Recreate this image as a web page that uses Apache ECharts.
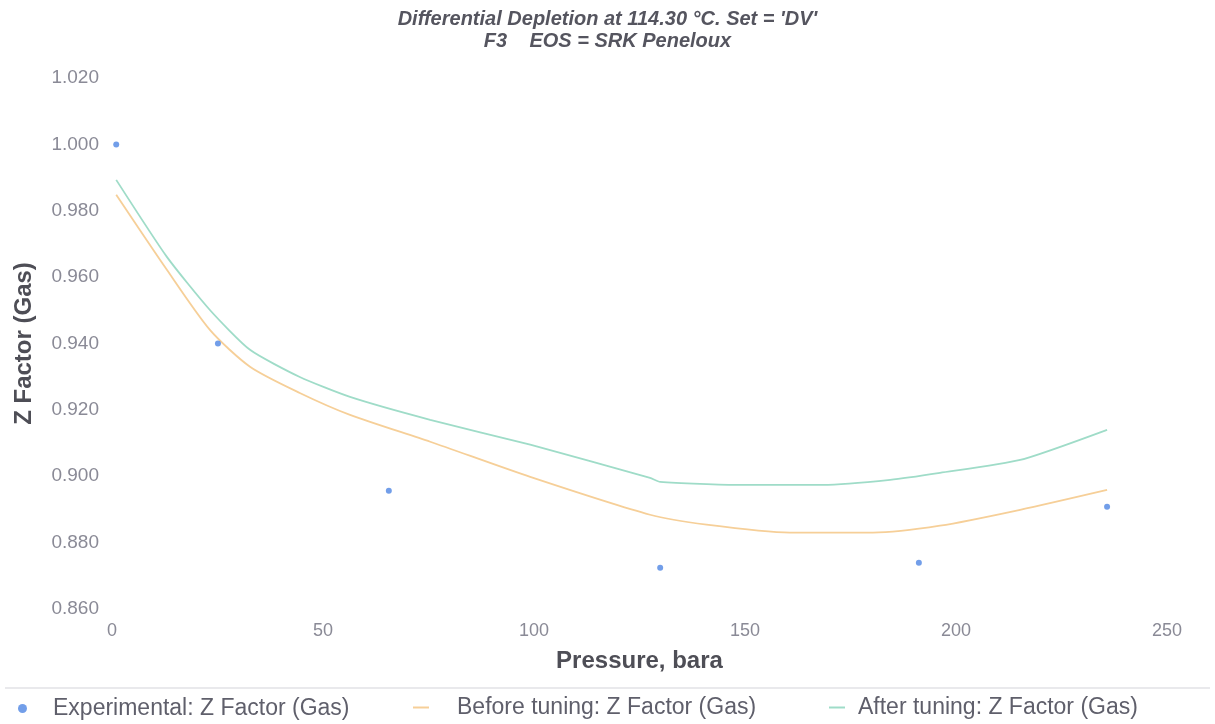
<!DOCTYPE html>
<html>
<head>
<meta charset="utf-8">
<script src="https://cdn.jsdelivr.net/npm/echarts@6/dist/echarts.min.js"></script>
<style>
html,body{margin:0;padding:0;background:#fff;}
#chart{width:1215px;height:724px;}
</style>
</head>
<body>
<div id="chart"></div>
<script>
const titleLines = ["Differential Depletion at 114.30 °C. Set = 'DV'", "F3    EOS = SRK Peneloux"];
const xAxisName = "Pressure, bara";
const yAxisName = "Z Factor (Gas)";
const seriesNames = ["Experimental: Z Factor (Gas)", "Before tuning: Z Factor (Gas)", "After tuning: Z Factor (Gas)"];

const expPressure = [1.0, 25.1, 65.6, 129.9, 191.2, 235.8];
const expZ = [1.000, 0.940, 0.8956, 0.8724, 0.8739, 0.8908];

const beforePressure = [1.0, 13.0, 23.2, 32.7, 44.5, 56.4, 75.4, 99.1, 127.5, 140.9, 160.6, 180.3, 196.2, 215.2, 235.8];
const beforeZ = [0.9848, 0.9622, 0.9441, 0.9330, 0.9251, 0.9185, 0.9104, 0.8998, 0.8884, 0.8854, 0.8830, 0.8830, 0.8851, 0.8899, 0.8959];

const afterPressure = [1.0, 13.0, 23.2, 32.7, 44.5, 56.4, 75.4, 99.1, 127.5, 129.9, 148.8, 168.5, 184.4, 196.2, 215.2, 235.8];
const afterZ = [0.9893, 0.9661, 0.9501, 0.9381, 0.9299, 0.9239, 0.9170, 0.9095, 0.8995, 0.8983, 0.8974, 0.8974, 0.8989, 0.9010, 0.9049, 0.9140];

const xTicks = {min: 0, max: 250, interval: 50};
const yTicks = {min: 0.86, max: 1.02, interval: 0.02};

const zip = (a, b) => a.map((v, i) => [v, b[i]]);

const chart = echarts.init(document.getElementById('chart'), null, {renderer: 'canvas'});
const legendText = {fontFamily: 'Liberation Sans, Arial, sans-serif', fontSize: 23, color: '#5f5f6b'};
chart.setOption({
  animation: false,
  backgroundColor: '#ffffff',
  title: {
    text: titleLines.join('\n'),
    left: 'center',
    top: 3,
    textStyle: {
      fontFamily: 'Liberation Sans, Arial, sans-serif',
      fontStyle: 'italic',
      fontWeight: 'bold',
      fontSize: 20,
      lineHeight: 22,
      color: '#55555f'
    }
  },
  grid: {left: 112, right: 48, top: 78, bottom: 115, containLabel: false},
  xAxis: {
    type: 'value',
    min: xTicks.min, max: xTicks.max, interval: xTicks.interval,
    name: xAxisName,
    nameLocation: 'middle',
    nameGap: 40,
    nameTextStyle: {fontFamily: 'Liberation Sans, Arial, sans-serif', fontWeight: 'bold', fontSize: 24, color: '#4e4e56'},
    axisLine: {show: false},
    axisTick: {show: false},
    splitLine: {show: false},
    axisLabel: {
      margin: 13,
      fontFamily: 'Liberation Sans, Arial, sans-serif',
      fontSize: 18,
      color: '#8a8a96'
    }
  },
  yAxis: {
    type: 'value',
    min: yTicks.min, max: yTicks.max, interval: yTicks.interval,
    name: yAxisName,
    nameLocation: 'middle',
    nameGap: 76,
    nameRotate: 90,
    nameTextStyle: {fontFamily: 'Liberation Sans, Arial, sans-serif', fontWeight: 'bold', fontSize: 24, color: '#4e4e56'},
    axisLine: {show: false},
    axisTick: {show: false},
    splitLine: {show: false},
    axisLabel: {
      margin: 13,
      formatter: v => v.toFixed(3),
      fontFamily: 'Liberation Sans, Arial, sans-serif',
      fontSize: 19,
      color: '#8a8a96'
    }
  },
  legend: [
    {
      data: [{name: seriesNames[0], icon: 'circle'}],
      left: 18, top: 697, itemWidth: 9, itemHeight: 9, padding: 0,
      textStyle: Object.assign({padding: [0, 0, 0, 21]}, legendText)
    },
    {
      data: [{name: seriesNames[1], icon: 'rect'}],
      left: 413, top: 696, itemWidth: 16, itemHeight: 2, padding: 0,
      textStyle: Object.assign({padding: [0, 0, 0, 23]}, legendText)
    },
    {
      data: [{name: seriesNames[2], icon: 'rect'}],
      left: 829, top: 696, itemWidth: 16, itemHeight: 2, padding: 0,
      textStyle: Object.assign({padding: [0, 0, 0, 8]}, legendText)
    }
  ],
  graphic: [{
    type: 'line',
    shape: {x1: 5, y1: 688, x2: 1210, y2: 688},
    style: {stroke: '#e2e2e6', lineWidth: 1.5}
  }],
  series: [
    {
      name: seriesNames[0],
      type: 'scatter',
      data: zip(expPressure, expZ),
      symbol: 'circle',
      symbolSize: 6,
      itemStyle: {color: '#4f86e3'},
      z: 5
    },
    {
      name: seriesNames[1],
      type: 'line',
      data: zip(beforePressure, beforeZ),
      showSymbol: false,
      symbol: 'none',
      smooth: 0.25,
      lineStyle: {color: '#f6cf98', width: 1.8},
      itemStyle: {color: '#f6cf98'}
    },
    {
      name: seriesNames[2],
      type: 'line',
      data: zip(afterPressure, afterZ),
      showSymbol: false,
      symbol: 'none',
      smooth: 0.2,
      lineStyle: {color: '#9fdcc8', width: 1.8},
      itemStyle: {color: '#9fdcc8'}
    }
  ]
});
</script>
</body>
</html>
